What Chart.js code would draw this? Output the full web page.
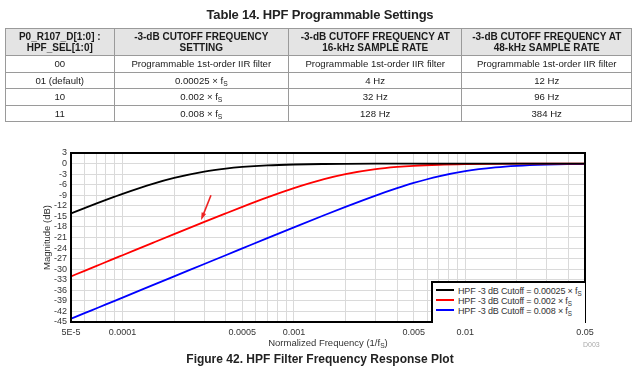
<!DOCTYPE html>
<html>
<head>
<meta charset="utf-8">
<script src="https://cdn.jsdelivr.net/npm/chart.js@4.4.1/dist/chart.umd.min.js"></script>
<style>
  body { margin: 0; background: #fff; font-family: "Liberation Sans", Arial, sans-serif; color: #222; }
  #page { position: relative; width: 640px; height: 372px; overflow: hidden; }
  #Chart { position: absolute; left: 0; top: 0; }
  .tbl-title { position: absolute; left: 0; width: 640px; top: 7px; text-align: center; font-weight: bold; font-size: 13px; letter-spacing: -0.2px; }
  table { position: absolute; left: 5px; top: 28px; width: 627px; border-collapse: collapse; font-size: 9.6px; color: #1a1a1a; }
  th, td { border: 1px solid #9a9a9a; text-align: center; padding: 0; }
  th { background: #e4e4e4; height: 26px; font-weight: bold; font-size: 10px; line-height: 11.5px; }
  td { height: 15.6px; }
  sub { font-size: 70%; vertical-align: -2px; line-height: 0; }
  #legend { position: absolute; left: 431px; top: 281px; width: 152px; height: 37px; border: 2px solid #000; border-right: none; border-bottom: none; background: #fff; font-size: 9px; letter-spacing: -0.15px; color: #333; padding-top: 3px; }
  #legend div { height: 10px; line-height: 10px; white-space: nowrap; }
  #legend span.sw { display: inline-block; width: 18px; height: 2px; margin: 0 4px 3px 3px; vertical-align: middle; }
  .xtitle { position: absolute; left: 71px; width: 514px; top: 337px; text-align: center; font-size: 9.5px; color: #333; }
  .code { position: absolute; left: 583px; top: 341px; font-size: 7px; color: #aaa; }
  .caption { position: absolute; left: 0; width: 640px; top: 352px; text-align: center; font-weight: bold; font-size: 12px; }
</style>
</head>
<body>
<div id="page">
  <canvas id="Chart" width="640" height="372"></canvas>
  <div class="tbl-title">Table 14. HPF Programmable Settings</div>
  <table id="tbl"></table>
  <div id="legend"></div>
  <div class="xtitle">Normalized Frequency (1/f<sub>S</sub>)</div>
  <div class="code">D003</div>
  <div class="caption">Figure 42. HPF Filter Frequency Response Plot</div>
</div>
<script>
// table contents
const tableHead = ['P0_R107_D[1:0] :<br>HPF_SEL[1:0]', '-3-dB CUTOFF FREQUENCY<br>SETTING',
  '-3-dB CUTOFF FREQUENCY AT<br>16-kHz SAMPLE RATE', '-3-dB CUTOFF FREQUENCY AT<br>48-kHz SAMPLE RATE'];
const hpfSel = ['00', '01 (default)', '10', '11'];
const cutoffSetting = ['Programmable 1st-order IIR filter', '0.00025 × f<sub>S</sub>', '0.002 × f<sub>S</sub>', '0.008 × f<sub>S</sub>'];
const cutoff16k = ['Programmable 1st-order IIR filter', '4 Hz', '32 Hz', '128 Hz'];
const cutoff48k = ['Programmable 1st-order IIR filter', '12 Hz', '96 Hz', '384 Hz'];
const colWidths = [108, 175, 174, 170];

// plot data (normalized frequency, dB)
const freqs = [5e-5, 6e-5, 7e-5, 8e-5, 9e-5, 1e-4, 1.5e-4, 2e-4, 3e-4, 4e-4, 5e-4, 7e-4,
  1e-3, 1.5e-3, 2e-3, 3e-3, 4e-3, 5e-3, 7e-3, 1e-2, 1.5e-2, 2e-2, 3e-2, 4e-2, 5e-2];
const black = [-14.15, -12.64, -11.38, -10.32, -9.40, -8.60, -5.77, -4.09, -2.29, -1.43, -0.97, -0.52,
  -0.26, -0.12, -0.07, -0.03, -0.02, -0.01, 0, 0, 0, 0, 0, 0, 0];
const red = [-32.04, -30.46, -29.12, -27.97, -26.94, -26.03, -22.52, -20.04, -16.58, -14.15, -12.30, -9.62,
  -6.99, -4.44, -3.01, -1.60, -0.97, -0.64, -0.34, -0.17, -0.08, -0.04, -0.02, -0.01, -0.01];
const blue = [-44.08, -42.50, -41.16, -40.00, -38.98, -38.06, -34.54, -32.04, -28.53, -26.03, -24.10, -21.19,
  -18.13, -14.69, -12.30, -9.09, -6.99, -5.51, -3.63, -2.15, -1.09, -0.64, -0.30, -0.17, -0.11];
const cutoffs = ['0.00025', '0.002', '0.008'];
const lineColors = ['#000000', '#ff0000', '#0000ff'];

// axes
const xGrid = [5e-5, 6e-5, 7e-5, 8e-5, 9e-5, 1e-4, 2e-4, 3e-4, 4e-4, 5e-4, 6e-4, 7e-4, 8e-4, 9e-4,
  1e-3, 2e-3, 3e-3, 4e-3, 5e-3, 6e-3, 7e-3, 8e-3, 9e-3, 1e-2, 2e-2, 3e-2, 4e-2, 5e-2];
const xLabelVals = [5e-5, 1e-4, 5e-4, 1e-3, 5e-3, 1e-2, 5e-2];
const xLabels = ['5E-5', '0.0001', '0.0005', '0.001', '0.005', '0.01', '0.05'];

// red arrow note [freq, dB]
const arrowFrom = [3.28e-4, -9.0];
const arrowTo = [2.87e-4, -16.1];

// build table
let html = '<tr>' + tableHead.map((h, i) => '<th style="width:' + colWidths[i] + 'px">' + h + '</th>').join('') + '</tr>';
for (let i = 0; i < hpfSel.length; i++) {
  html += '<tr><td>' + hpfSel[i] + '</td><td>' + cutoffSetting[i] + '</td><td>' + cutoff16k[i] + '</td><td>' + cutoff48k[i] + '</td></tr>';
}
document.getElementById('tbl').innerHTML = html;

const series = [black, red, blue];
const datasets = series.map((s, i) => ({
  label: 'HPF -3 dB Cutoff = ' + cutoffs[i] + ' × fS',
  data: freqs.map((f, j) => ({x: f, y: s[j]})),
  borderColor: lineColors[i],
  borderWidth: 1.8,
  pointRadius: 0,
  cubicInterpolationMode: 'monotone',
  fill: false
}));

const frame = {
  id: 'frame',
  afterDatasetsDraw(chart) {
    const c = chart.ctx, x = chart.scales.x, y = chart.scales.y;
    // arrow
    const x1 = x.getPixelForValue(arrowFrom[0]), y1 = y.getPixelForValue(arrowFrom[1]);
    const x2 = x.getPixelForValue(arrowTo[0]), y2 = y.getPixelForValue(arrowTo[1]);
    const a = Math.atan2(y2 - y1, x2 - x1);
    c.save();
    c.strokeStyle = '#ee2222';
    c.fillStyle = '#ee2222';
    c.lineWidth = 1.6;
    c.beginPath();
    c.moveTo(x1, y1);
    c.lineTo(x2 - 5 * Math.cos(a), y2 - 5 * Math.sin(a));
    c.stroke();
    c.beginPath();
    c.moveTo(x2, y2);
    c.lineTo(x2 - 8 * Math.cos(a - 0.3), y2 - 8 * Math.sin(a - 0.3));
    c.lineTo(x2 - 8 * Math.cos(a + 0.3), y2 - 8 * Math.sin(a + 0.3));
    c.closePath();
    c.fill();
    // plot border
    const ca = chart.chartArea;
    c.strokeStyle = '#000';
    c.lineWidth = 2;
    c.strokeRect(ca.left, ca.top, ca.right - ca.left, ca.bottom - ca.top);
    c.restore();
  }
};

const ctx = document.getElementById('Chart').getContext('2d');
const myChart = new Chart(ctx, {
  type: 'line',
  data: { datasets: datasets },
  options: {
    responsive: false,
    animation: false,
    layout: { padding: { left: 40, right: 55, top: 153, bottom: 20 } },
    plugins: { legend: { display: false }, tooltip: { enabled: false } },
    scales: {
      x: {
        type: 'logarithmic',
        min: 5e-5,
        max: 5e-2,
        border: { display: false },
        grid: { color: '#dadada', lineWidth: 1, drawTicks: false },
        afterBuildTicks: s => { s.ticks = xGrid.map(v => ({value: v})); },
        afterFit: s => { s.height = 30; s.paddingLeft = 0; s.paddingRight = 0; },
        ticks: {
          autoSkip: false,
          maxRotation: 0,
          padding: 5,
          color: '#333',
          font: { family: 'Liberation Sans', size: 9 },
          callback: v => {
            const k = xLabelVals.findIndex(t => Math.abs(t - v) / t < 1e-6);
            return k >= 0 ? xLabels[k] : '';
          }
        }
      },
      y: {
        min: -45,
        max: 3,
        border: { display: false },
        grid: { color: '#dadada', lineWidth: 1, drawTicks: false },
        afterFit: s => { s.width = 31; s.paddingTop = 0; s.paddingBottom = 0; },
        ticks: { stepSize: 3, autoSkip: false, padding: 4, color: '#333', font: { family: 'Liberation Sans', size: 9 } },
        title: { display: true, text: 'Magnitude (dB)', color: '#333', padding: 2, font: { family: 'Liberation Sans', size: 9.5 } }
      }
    }
  },
  plugins: [frame]
});

// legend box from the datasets
document.getElementById('legend').innerHTML = myChart.data.datasets.map(d =>
  '<div><span class="sw" style="background:' + d.borderColor + '"></span>' +
  d.label.replace(' fS', ' f<sub>S</sub>') + '</div>').join('');
</script>
</body>
</html>
